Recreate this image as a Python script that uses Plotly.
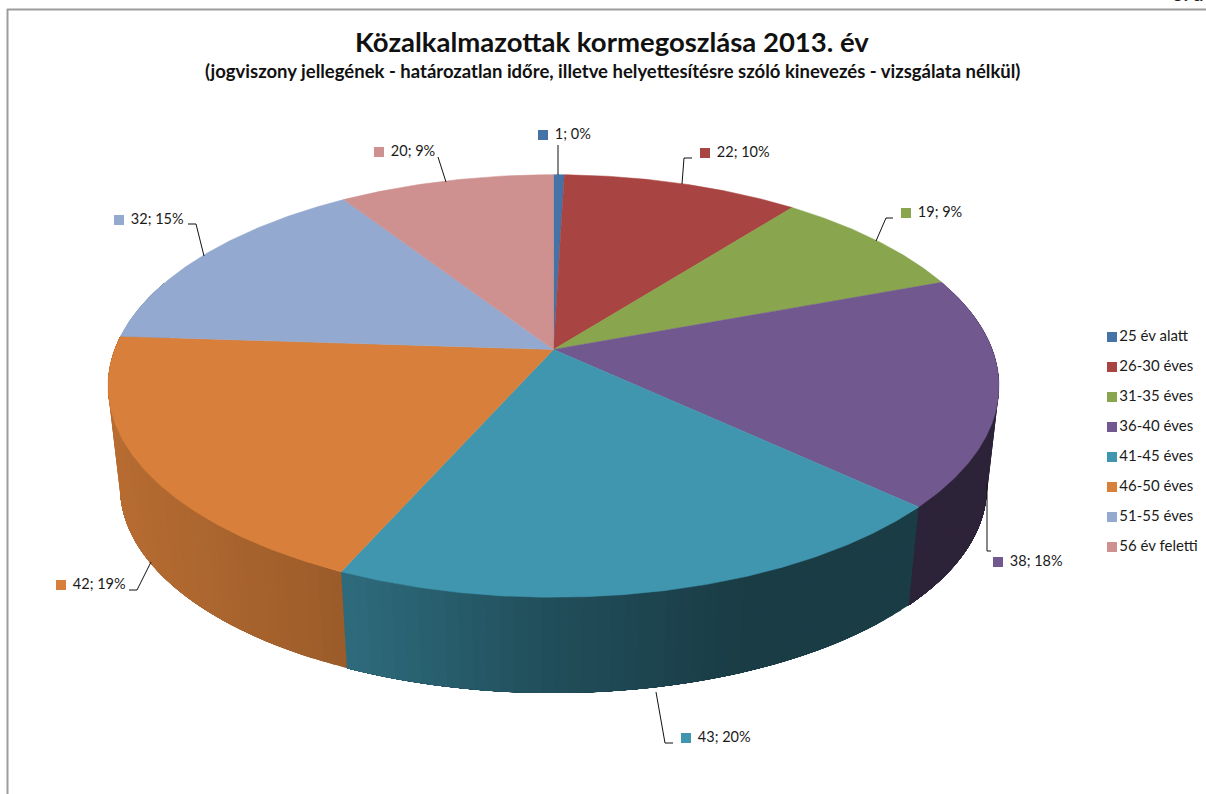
import math
import plotly.graph_objects as go

# ---- data ----
categories = ["25 év alatt", "26-30 éves", "31-35 éves", "36-40 éves",
              "41-45 éves", "46-50 éves", "51-55 éves", "56 év feletti"]
values = [1, 22, 19, 38, 43, 42, 32, 20]
colors = ["#4572A7", "#A84543", "#89A54E", "#71588F",
          "#4096AE", "#D8803B", "#93A9CF", "#CF9190"]

# ---- layout of the drawing (pixel space of the picture) ----
W, H = 1206, 794
APEX_X, APEX_Y = 553.5, 349.5
A, B, P = 438.8, 205.0, 0.1726   # perspective disc
DEPTH_Y, DEPTH_SCALE = 452.0, 0.973
FONT = "Lato"

swatch_pos = [(543, 135), (705, 153), (906, 213), (998, 562),
              (686, 738), (61, 585), (119, 220), (379, 152)]
leaders = [
    [(558, 145), (558, 175)],
    [(692, 158), (684, 158), (682, 184)],
    [(893, 218), (886, 218), (876, 241)],
    [(987, 483), (987, 551), (991, 551)],
    [(656, 692), (665, 743), (673, 743)],
    [(129, 590), (137, 590), (151, 562)],
    [(188, 224), (196, 224), (204, 256)],
    [(438, 157), (446, 182)],
]
legend_x, legend_y0, legend_dy = 1112, 337, 30


def rim(theta, y0=APEX_Y, scale=1.0):
    u, v = math.sin(theta), -math.cos(theta)
    d = 1 - P * v
    return APEX_X + scale * A * u / d, y0 + scale * B * v / d


def shade(hex_color, f):
    r, g, b = (int(hex_color[i:i + 2], 16) for i in (1, 3, 5))
    return f"rgb({int(r * f)},{int(g * f)},{int(b * f)})"


def wall_factor(x):
    stops = [(107, .85), (342, .72), (553, .52), (750, .40), (1010, .40)]
    for (x0, f0), (x1, f1) in zip(stops, stops[1:]):
        if x <= x1:
            return f0 + (f1 - f0) * max(x - x0, 0) / (x1 - x0)
    return stops[-1][1]


total = sum(values)
bounds = [0.0]
for val in values:
    bounds.append(bounds[-1] + val / total * 2 * math.pi)

fig = go.Figure()

# side wall, in thin overlapping strips so that the shading runs along it without seams
for i, val in enumerate(values):
    t0, t1 = bounds[i], bounds[i + 1]
    lo, hi = max(t0, math.radians(70)), min(t1, math.radians(290))
    if hi <= lo:
        continue
    n = max(1, int((hi - lo) / math.radians(1.5)))
    for k in range(n):
        a0 = lo + (hi - lo) * k / n
        a1 = hi                         # every strip runs to the slice end; later ones paint over it
        steps = [a0 + (a1 - a0) * j / 12 for j in range(13)]
        top = [rim(a) for a in steps]
        bot = [rim(a, DEPTH_Y, DEPTH_SCALE) for a in reversed(steps)]
        xs = [q[0] for q in top + bot] + [top[0][0]]
        ys = [q[1] for q in top + bot] + [top[0][1]]
        mid_x = rim(lo + (hi - lo) * (k + 0.5) / n)[0]
        c = shade(colors[i], wall_factor(mid_x))
        fig.add_trace(go.Scatter(x=xs, y=ys, mode="lines", fill="toself", fillcolor=c,
                                 line=dict(color=c, width=0), hoverinfo="skip",
                                 showlegend=False))

# top face
for i, (name, val) in enumerate(zip(categories, values)):
    t0, t1 = bounds[i], bounds[i + 1]
    n = max(2, int((t1 - t0) / math.radians(0.5)))
    pts = [rim(t0 + (t1 - t0) * k / n) for k in range(n + 1)]
    xs = [APEX_X] + [q[0] for q in pts] + [APEX_X]
    ys = [APEX_Y] + [q[1] for q in pts] + [APEX_Y]
    fig.add_trace(go.Scatter(x=xs, y=ys, mode="lines", fill="toself", fillcolor=colors[i],
                             line=dict(color=colors[i], width=0.5), name=name,
                             hoverinfo="name", showlegend=False))

# leader lines
for path in leaders:
    fig.add_trace(go.Scatter(x=[q[0] for q in path], y=[q[1] for q in path], mode="lines",
                             line=dict(color="#111111", width=1), hoverinfo="skip",
                             showlegend=False))

# data labels: swatch plus "value; percent"
labels = [f"{v}; {round(v / total * 100)}%" for v in values]
fig.add_trace(go.Scatter(x=[q[0] for q in swatch_pos], y=[q[1] for q in swatch_pos],
                         mode="markers+text", text=[" \u200a" + t for t in labels],
                         textposition="middle right",
                         textfont=dict(family=FONT, size=14.5, color="#1a1a1a"),
                         marker=dict(symbol="square", size=10, color=colors),
                         hoverinfo="skip", showlegend=False))

# legend
fig.add_trace(go.Scatter(x=[legend_x] * len(categories),
                         y=[legend_y0 + k * legend_dy for k in range(len(categories))],
                         mode="markers+text", text=categories,
                         textposition="middle right",
                         textfont=dict(family=FONT, size=15, color="#1a1a1a"),
                         marker=dict(symbol="square", size=10, color=colors),
                         hoverinfo="skip", showlegend=False))

fig.update_layout(
    width=W, height=H, margin=dict(l=0, r=0, t=0, b=0),
    paper_bgcolor="white", plot_bgcolor="white", showlegend=False,
    xaxis=dict(range=[0, W], visible=False, fixedrange=True),
    yaxis=dict(range=[H, 0], visible=False, fixedrange=True),
    shapes=[
        dict(type="line", x0=7.5, x1=7.5, y0=9, y1=H, line=dict(color="#9c9c9c", width=2)),
        dict(type="line", x0=7, x1=W, y0=9.5, y1=9.5, line=dict(color="#9c9c9c", width=2)),
    ],
    annotations=[
        dict(x=612, y=41, xref="x", yref="y", showarrow=False, xanchor="center", yanchor="middle",
             text="<b>Közalkalmazottak kormegoszlása 2013. év</b>",
             font=dict(family=FONT, size=27.5, color="#111111")),
        dict(x=612, y=71, xref="x", yref="y", showarrow=False, xanchor="center", yanchor="middle",
             text="<b>(jogviszony jellegének - határozatlan időre, illetve helyettesítésre szóló kinevezés - vizsgálata nélkül)</b>",
             font=dict(family=FONT, size=18.5, color="#111111")),
        dict(x=1170, y=7, xref="x", yref="y", showarrow=False, xanchor="left", yanchor="bottom",
             text="<b>3. á</b>", font=dict(family=FONT, size=20, color="#222222")),
    ],
)

fig.write_html("out.html", config={"displayModeBar": False},
               post_script="document.body.style.margin='0';document.body.style.overflow='hidden';")
